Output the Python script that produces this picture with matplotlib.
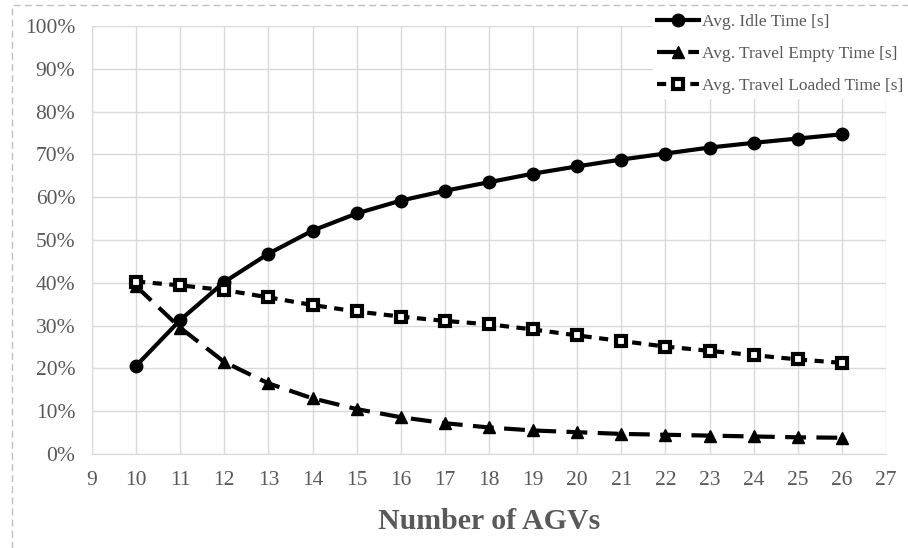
import matplotlib
matplotlib.use("Agg")
import matplotlib.pyplot as plt
from matplotlib.patches import Rectangle
from matplotlib.ticker import FuncFormatter

agvs = list(range(10, 27))
idle = [20.6, 31.3, 40.2, 46.8, 52.2, 56.2, 59.2, 61.5, 63.5, 65.5, 67.2, 68.8, 70.2, 71.6, 72.7, 73.7, 74.7]
empty = [39.2, 29.5, 21.5, 16.5, 13.0, 10.5, 8.6, 7.2, 6.2, 5.5, 5.1, 4.7, 4.5, 4.3, 4.1, 3.9, 3.8]
loaded = [40.3, 39.4, 38.3, 36.6, 34.8, 33.3, 32.1, 31.1, 30.3, 29.1, 27.7, 26.4, 25.1, 24.1, 23.1, 22.1, 21.3]
labels = ["Avg. Idle Time [s]", "Avg. Travel Empty Time [s]", "Avg. Travel Loaded Time [s]"]

plt.rcParams['font.family'] = ['Liberation Serif', 'DejaVu Serif']
gray = '#595959'

fig = plt.figure(figsize=(9.08, 5.48), dpi=100)
ax = fig.add_axes([0.1013, 0.1715, 0.8745, 0.7811])

ax.plot(agvs, idle, color='black', lw=3, marker='o', ms=9, label=labels[0], zorder=3)
ax.plot(agvs, empty, color='black', lw=3, marker='^', ms=9, dashes=(5, 2.5), label=labels[1], zorder=3)
ax.plot(agvs, loaded, color='black', lw=3, marker='s', ms=7.5, mfc='white', mew=3, dashes=(2.2, 1.8), label=labels[2], zorder=3)

ax.set_xlim(9, 27)
ax.set_ylim(0, 100)
ax.set_xticks(range(9, 28))
ax.set_yticks(range(0, 101, 10))
ax.yaxis.set_major_formatter(FuncFormatter(lambda v, p: f"{int(v)}%"))
ax.grid(True, color='#d9d9d9', lw=1)
ax.set_axisbelow(True)
for s in ['top', 'right']:
    ax.spines[s].set_visible(False)
for s in ['left', 'bottom']:
    ax.spines[s].set_color('#d9d9d9')
ax.tick_params(length=0, labelsize=15.5, colors=gray)
ax.tick_params(axis='x', pad=12)
ax.tick_params(axis='y', pad=12)
ax.set_xlabel("Number of AGVs", fontsize=21.5, fontweight='bold', color=gray, labelpad=13)

leg = ax.legend(loc='upper right', bbox_to_anchor=(0.999, 0.982), bbox_transform=fig.transFigure,
                frameon=True, fancybox=False, edgecolor='white', framealpha=1,
                fontsize=12.5, handlelength=2.4, handletextpad=0.15, labelspacing=0.9, borderpad=0.25,
                borderaxespad=0)
for t in leg.get_texts():
    t.set_color(gray)

fig.patches.append(Rectangle((0.013, -0.05), 1.1, 1.04, transform=fig.transFigure, fill=False,
                             edgecolor='#c0c0c0', lw=1, linestyle=(0, (5, 3)), zorder=0))

fig.savefig("out.png", dpi=100)
